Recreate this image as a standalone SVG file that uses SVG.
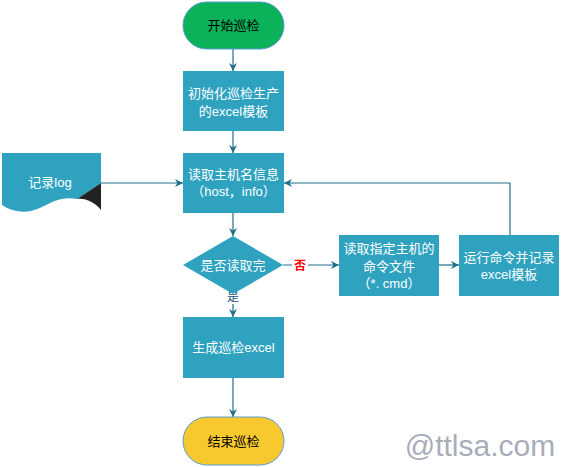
<svg xmlns="http://www.w3.org/2000/svg" width="561" height="467" viewBox="0 0 561 467">
<style>
.box{fill:#2EA2BF;}
.t{font-family:"Liberation Sans","Noto Sans CJK SC",sans-serif;font-size:13px;text-anchor:middle;fill:#ffffff;}
.tb{font-family:"Liberation Sans","Noto Sans CJK SC",sans-serif;font-size:13px;text-anchor:middle;fill:#000000;}
.c{fill:none;stroke:#1F6F8B;stroke-width:1.2;}
</style>
<defs>
<marker id="ah" viewBox="0 0 10 10" refX="10" refY="5" markerWidth="8" markerHeight="8" markerUnits="userSpaceOnUse" orient="auto">
<path d="M0,0 L10,5 L0,10 L3,5 Z" fill="#1F6F8B"/>
</marker>
</defs>
<rect width="561" height="467" fill="#ffffff"/>
<g id="connectors">
<line class="c" x1="233" y1="49" x2="233" y2="71" marker-end="url(#ah)"/>
<line class="c" x1="233" y1="131" x2="233" y2="153" marker-end="url(#ah)"/>
<line class="c" x1="233" y1="213" x2="233" y2="236" marker-end="url(#ah)"/>
<line class="c" x1="233" y1="293" x2="233" y2="317" marker-end="url(#ah)"/>
<line class="c" x1="233" y1="378" x2="233" y2="417" marker-end="url(#ah)"/>
<line class="c" x1="283" y1="265" x2="339" y2="265" marker-end="url(#ah)"/>
<line class="c" x1="439" y1="265" x2="459" y2="265" marker-end="url(#ah)"/>
<polyline class="c" points="510,235 510,183 284,183" marker-end="url(#ah)"/>
<line class="c" x1="101" y1="183" x2="183" y2="183" marker-end="url(#ah)"/>
<rect x="225" y="290" width="16" height="14" fill="#ffffff"/>
<text x="233" y="301" font-family="Liberation Sans,Noto Sans CJK SC,sans-serif" font-size="12" text-anchor="middle" fill="#1F4E79">是</text>
<rect x="292" y="258" width="16" height="15" fill="#ffffff"/>
<text x="300" y="270" font-family="Liberation Sans,Noto Sans CJK SC,sans-serif" font-size="12" font-weight="bold" text-anchor="middle" fill="#FF0000">否</text>
</g>
<g id="start">
<rect x="183" y="2" width="101" height="47" rx="23.5" fill="#0CB25A" stroke="#5B9BD5" stroke-width="1"/>
<text class="tb" x="233.5" y="30">开始巡检</text>
</g>
<g id="init">
<rect class="box" x="183" y="71" width="101" height="60"/>
<text class="t" x="233.5" y="98">初始化巡检生产</text>
<text class="t" x="233.5" y="116">的excel模板</text>
</g>
<g id="read">
<rect class="box" x="183" y="153" width="101" height="60"/>
<text class="t" x="233.5" y="179">读取主机名信息</text>
<text class="t" x="233.5" y="196">（host，info）</text>
</g>
<g id="decision">
<polygon class="box" points="233,236 283,265 233,294 183,265"/>
<text class="t" x="233" y="270">是否读取完</text>
</g>
<g id="generate">
<rect class="box" x="183" y="317" width="101" height="61"/>
<text class="t" x="233.5" y="352">生成巡检excel</text>
</g>
<g id="end">
<rect x="183" y="417" width="101" height="48" rx="24" fill="#F8C92F" stroke="#5B9BD5" stroke-width="1"/>
<text class="tb" x="233.5" y="446">结束巡检</text>
</g>
<g id="readcmd">
<rect class="box" x="339" y="235" width="100" height="61"/>
<text class="t" x="389" y="253">读取指定主机的</text>
<text class="t" x="389" y="271">命令文件</text>
<text class="t" x="389" y="288">（*. cmd）</text>
</g>
<g id="run">
<rect class="box" x="459" y="235" width="100" height="61"/>
<text class="t" x="509" y="262">运行命令并记录</text>
<text class="t" x="509" y="279">excel模板</text>
</g>
<g id="log">
<path class="box" d="M2,153 H101 V183 L77,199 C62,196 52,202 42,207 C28,214 14,213 2,205 Z"/>
<path d="M77,199 L101,183 V210 C94,202 86,198 77,199 Z" fill="#222222"/>
<text class="t" x="50" y="187">记录log</text>
</g>
<text x="480" y="456" font-family="Liberation Sans,sans-serif" font-size="30" text-anchor="middle" fill="#A9ACBA">@ttlsa.com</text>
</svg>
